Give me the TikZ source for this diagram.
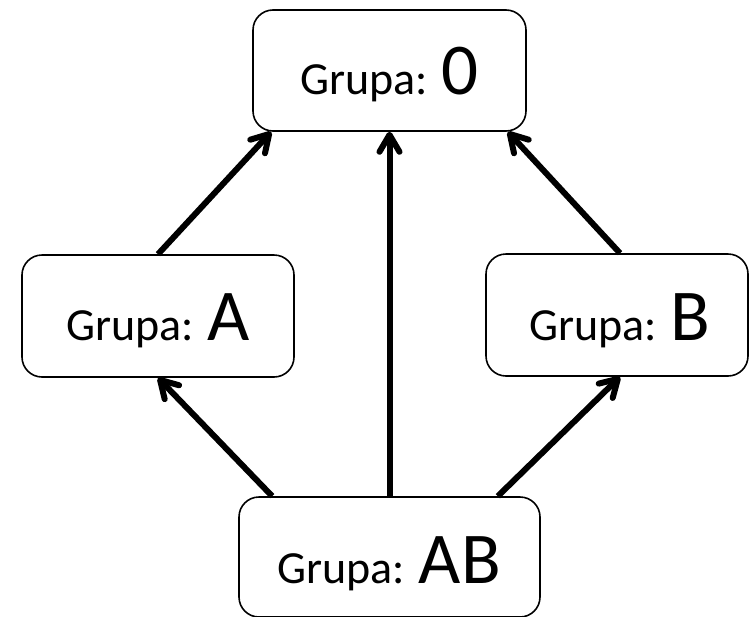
\documentclass[tikz,border=0pt]{standalone}
\usepackage{fontspec}
\setmainfont{Carlito}
\usetikzlibrary{arrows.meta,calc}
\tikzset{
  grpbox/.style={draw=black, line width=1.6pt, rounded corners=20pt, inner sep=0pt, fill=white},
  grptext/.style={anchor=base, inner sep=0pt},
  arr/.style={line width=6pt, -{Straight Barb[length=17pt, width=20pt, round]}},
}
\newcommand{\smallgrp}{\fontsize{46}{50}\selectfont}
\newcommand{\biggrp}{\fontsize{73}{80}\selectfont}
\begin{document}
\begin{tikzpicture}[x=1pt,y=-1pt]
\useasboundingbox (0,0) rectangle (749,616);
\node[grpbox, minimum width=273pt, minimum height=121pt] (top) at (389.5,70.5) {};
\node[grpbox, minimum width=272pt, minimum height=122pt] (left) at (158,316) {};
\node[grpbox, minimum width=262pt, minimum height=122pt] (right) at (617,315) {};
\node[grpbox, minimum width=301pt, minimum height=120pt] (bottom) at (389.5,557) {};
\node[grptext] (ttop) at (389.5,94) {\smallgrp Grupa: \biggrp 0};
\node[grptext] (tleft) at (158,340) {\smallgrp Grupa: \biggrp A};
\node[grptext] (tright) at (620,340) {\smallgrp Grupa: \biggrp B};
\node[grptext] (tbottom) at (389,583) {\smallgrp Grupa: \biggrp AB};
\draw[arr] (left.north) -- ($(top.south west)+(19,0)$);
\draw[arr] ($(right.north)+(3,0)$) -- ($(top.south east)+(-19,0)$);
\draw[arr] (bottom.north) -- (top.south);
\draw[arr] ($(bottom.north west)+(34,0)$) -- (left.south);
\draw[arr] ($(bottom.north east)+(-43,0)$) -- ($(right.south)+(3,0)$);
\end{tikzpicture}
\end{document}
